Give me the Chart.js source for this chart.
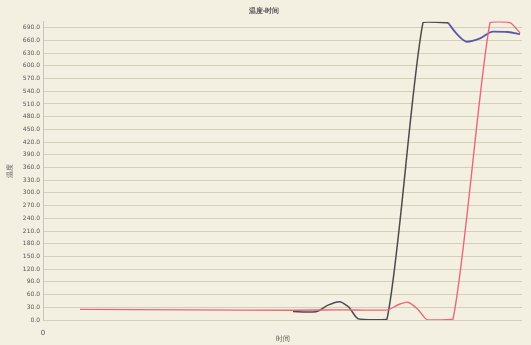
<!DOCTYPE html>
<html>
<head>
<meta charset="utf-8">
<script src="https://cdn.jsdelivr.net/npm/chart.js@4/dist/chart.umd.min.js"></script>
<style>
  html, body { margin: 0; padding: 0; background: #f3f0e1; }
  #wrap { width: 531px; height: 345px; }
</style>
</head>
<body>
<div id="wrap"><canvas id="c" width="531" height="345"></canvas></div>
<script>
// Temperature / time record: time in seconds, temperature in °C
const timeDark  = [250, 270, 275, 285, 297, 306, 315, 344, 380, 405];
const tempDark  = [ 20,  19,  21,  35,  43,  30,   3,   2, 702, 702];

const timeBlue  = [405, 414, 424, 437, 450, 465, 477];
const tempBlue  = [702, 675, 657, 665, 681, 680, 675];

const timeRed   = [ 37, 150, 250, 300, 345, 355, 365, 375, 384, 410, 447, 467, 477];
const tempRed   = [ 25,  24,  23,  24,  24,  36,  42,  25,   1,   2, 702, 702, 678];

const yTicksStep = 30;
const yMax = 705;
const xMax = 479;

const pts = (xs, ys) => xs.map((x, i) => ({ x: x, y: ys[i] }));

const font = 'DejaVu Sans';

new Chart(document.getElementById('c'), {
  type: 'line',
  data: {
    datasets: [
      {
        label: '温度1',
        data: pts(timeRed, tempRed),
        borderColor: '#ee6578',
        borderWidth: 1.4,
        pointRadius: 0,
        tension: 0.2
      },
      {
        label: '温度2',
        data: pts(timeDark, tempDark),
        borderColor: '#4d4a4f',
        borderWidth: 1.5,
        pointRadius: 0,
        tension: 0.2
      },
      {
        label: '温度3',
        data: pts(timeBlue, tempBlue),
        borderColor: '#5c57a8',
        borderWidth: 1.8,
        pointRadius: 0,
        cubicInterpolationMode: 'monotone'
      }
    ]
  },
  options: {
    responsive: false,
    animation: false,
    layout: { padding: { left: 6, right: 9, top: 0, bottom: 2 } },
    plugins: {
      legend: { display: false },
      tooltip: { enabled: false },
      title: {
        display: true,
        text: '温度-时间',
        color: '#555',
        font: { family: font, size: 7 },
        padding: { top: 7, bottom: 6 }
      }
    },
    scales: {
      x: {
        type: 'linear',
        min: 0,
        max: xMax,
        grid: { display: false },
        border: { display: false },
        ticks: {
          stepSize: xMax,
          color: '#555',
          font: { family: font, size: 7 },
          padding: 1,
          maxRotation: 0,
          callback: v => (v === 0 ? '0' : '')
        },
        title: {
          display: true,
          text: '时间',
          color: '#555',
          font: { family: font, size: 7 },
          padding: { top: 0, bottom: 0 }
        },
        afterFit: s => { s.height = 23; }
      },
      y: {
        min: 0,
        max: yMax,
        grid: { color: '#d3cfbb', lineWidth: 1, drawTicks: false },
        border: { display: true, color: '#c9c6b6' },
        ticks: {
          stepSize: yTicksStep,
          includeBounds: false,
          color: '#555',
          font: { family: font, size: 6 },
          padding: 3,
          callback: v => v.toFixed(1)
        },
        title: {
          display: true,
          text: '温度',
          color: '#555',
          font: { family: font, size: 7 },
          padding: { top: 0, bottom: 3 }
        },
        afterFit: s => { s.width = 37; }
      }
    }
  }
});
</script>
</body>
</html>
